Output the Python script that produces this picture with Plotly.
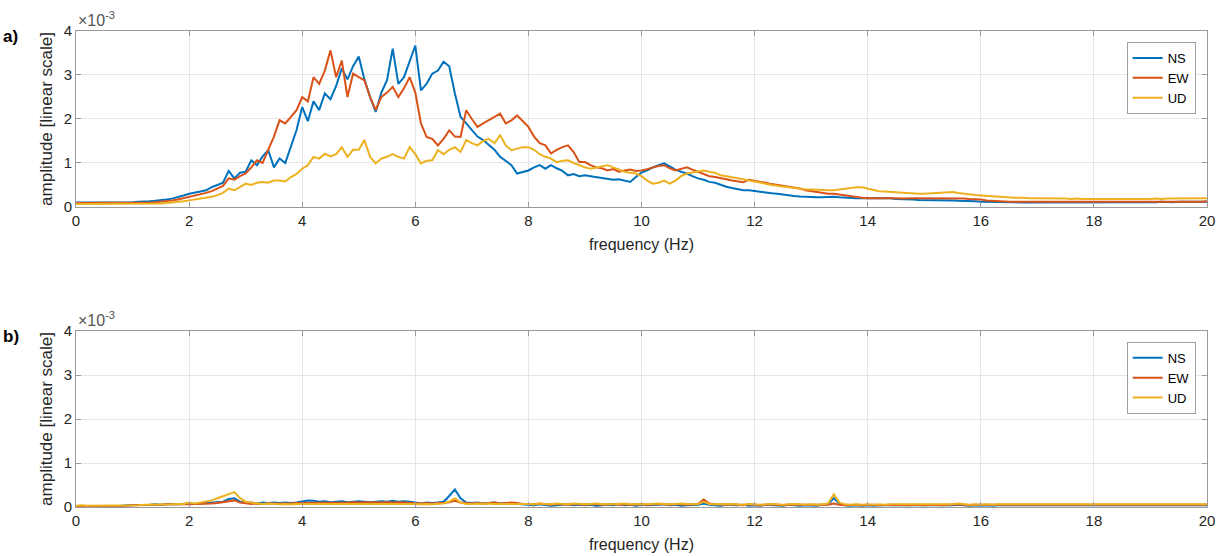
import numpy as np
import plotly.graph_objects as go

# frequency axis (Hz), 0.1 Hz steps
freq = [round(i * 0.1, 1) for i in range(201)]

# ---- panel a) amplitudes (x 1e-3) ----
ns_a = [
    0.10,0.10,0.10,0.10,0.10,0.10,0.10,0.11,0.11,0.11,
    0.11,0.12,0.12,0.13,0.14,0.15,0.17,0.19,0.22,0.26,
    0.30,0.32,0.35,0.38,0.45,0.50,0.55,0.82,0.65,0.78,
    0.80,1.06,0.95,1.15,1.29,0.90,1.10,1.00,1.36,1.75,
    2.27,1.95,2.40,2.20,2.58,2.45,2.75,3.15,2.90,3.20,
    3.42,2.90,2.50,2.16,2.60,2.88,3.60,2.80,2.95,3.30,
    3.67,2.65,2.80,3.03,3.10,3.30,3.20,2.58,2.05,1.90,
    1.75,1.60,1.52,1.40,1.30,1.14,1.05,0.95,0.76,0.80,
    0.83,0.90,0.95,0.87,0.95,0.88,0.82,0.72,0.75,0.70,
    0.72,0.70,0.68,0.66,0.65,0.62,0.63,0.60,0.57,0.68,
    0.78,0.83,0.90,0.95,0.99,0.92,0.85,0.80,0.76,0.70,
    0.65,0.62,0.57,0.55,0.50,0.46,0.43,0.40,0.38,0.38,
    0.36,0.34,0.33,0.31,0.30,0.28,0.27,0.25,0.24,0.23,
    0.23,0.22,0.22,0.23,0.23,0.22,0.21,0.21,0.20,0.20,
    0.20,0.20,0.19,0.19,0.20,0.18,0.18,0.17,0.17,0.16,
    0.16,0.16,0.15,0.15,0.15,0.15,0.14,0.14,0.13,0.13,
    0.12,0.12,0.12,0.11,0.11,0.11,0.11,0.10,0.10,0.10,
    0.10,0.10,0.11,0.10,0.10,0.10,0.11,0.10,0.10,0.10,
    0.10,0.10,0.11,0.11,0.10,0.10,0.11,0.11,0.10,0.11,
    0.11,0.11,0.12,0.11,0.11,0.12,0.12,0.11,0.12,0.12,
    0.12,
]
ew_a = [
    0.09,0.09,0.09,0.09,0.09,0.09,0.09,0.09,0.09,0.09,
    0.09,0.09,0.10,0.10,0.11,0.12,0.13,0.15,0.17,0.20,
    0.23,0.26,0.28,0.32,0.36,0.42,0.48,0.65,0.62,0.70,
    0.76,0.90,1.06,1.00,1.29,1.60,1.97,1.90,2.05,2.20,
    2.50,2.40,2.95,2.80,3.10,3.56,2.95,3.33,2.50,3.03,
    2.95,2.88,2.50,2.20,2.50,2.60,2.73,2.50,2.70,2.95,
    2.60,1.90,1.59,1.55,1.40,1.55,1.74,1.60,1.59,2.20,
    2.00,1.82,1.90,1.97,2.05,2.12,1.90,1.97,2.08,1.95,
    1.82,1.60,1.45,1.40,1.22,1.30,1.36,1.40,1.25,1.02,
    1.02,0.95,0.90,0.88,0.83,0.86,0.80,0.83,0.85,0.82,
    0.83,0.86,0.90,0.93,0.95,0.88,0.83,0.86,0.90,0.85,
    0.80,0.74,0.70,0.68,0.66,0.63,0.60,0.58,0.56,0.62,
    0.60,0.58,0.55,0.52,0.50,0.49,0.47,0.44,0.42,0.38,
    0.36,0.34,0.32,0.30,0.30,0.28,0.26,0.24,0.22,0.21,
    0.20,0.20,0.21,0.20,0.20,0.20,0.19,0.20,0.20,0.20,
    0.20,0.19,0.20,0.20,0.19,0.20,0.20,0.19,0.18,0.18,
    0.17,0.15,0.14,0.13,0.13,0.12,0.12,0.12,0.12,0.11,
    0.11,0.12,0.11,0.11,0.12,0.11,0.11,0.12,0.11,0.11,
    0.11,0.12,0.11,0.11,0.12,0.11,0.11,0.12,0.11,0.12,
    0.12,0.11,0.12,0.12,0.11,0.12,0.12,0.11,0.12,0.12,
    0.13,
]
ud_a = [
    0.07,0.07,0.07,0.07,0.07,0.07,0.07,0.07,0.07,0.07,
    0.07,0.07,0.07,0.08,0.08,0.08,0.09,0.10,0.11,0.13,
    0.15,0.17,0.19,0.21,0.23,0.27,0.32,0.42,0.38,0.45,
    0.53,0.50,0.55,0.57,0.55,0.60,0.60,0.58,0.68,0.75,
    0.87,0.95,1.14,1.10,1.21,1.15,1.20,1.36,1.14,1.30,
    1.30,1.52,1.14,0.99,1.10,1.14,1.20,1.14,1.10,1.36,
    1.20,0.99,1.05,1.06,1.29,1.20,1.30,1.36,1.25,1.52,
    1.45,1.40,1.50,1.55,1.45,1.63,1.40,1.29,1.33,1.36,
    1.36,1.30,1.20,1.14,1.10,1.02,1.05,1.06,1.00,0.95,
    0.90,0.87,0.90,0.92,0.95,0.90,0.85,0.80,0.78,0.76,
    0.70,0.60,0.53,0.55,0.60,0.53,0.60,0.70,0.76,0.78,
    0.80,0.83,0.80,0.78,0.72,0.70,0.68,0.66,0.63,0.60,
    0.58,0.55,0.53,0.50,0.48,0.47,0.45,0.43,0.42,0.40,
    0.40,0.39,0.38,0.38,0.38,0.40,0.42,0.44,0.45,0.45,
    0.42,0.38,0.36,0.35,0.34,0.33,0.32,0.31,0.30,0.30,
    0.30,0.31,0.32,0.33,0.34,0.34,0.32,0.30,0.28,0.27,
    0.26,0.25,0.24,0.23,0.22,0.22,0.21,0.21,0.20,0.20,
    0.20,0.20,0.19,0.20,0.19,0.19,0.18,0.19,0.18,0.18,
    0.18,0.18,0.17,0.18,0.18,0.17,0.18,0.18,0.18,0.18,
    0.18,0.19,0.18,0.19,0.19,0.20,0.19,0.20,0.20,0.20,
    0.20,
]

# ---- panel b) amplitudes (x 1e-3) ----
ns_b = [
    0.02,0.02,0.02,0.02,0.03,0.03,0.03,0.03,0.03,0.04,
    0.04,0.05,0.04,0.05,0.06,0.05,0.06,0.07,0.06,0.07,
    0.08,0.07,0.08,0.08,0.09,0.10,0.12,0.18,0.20,0.12,
    0.09,0.10,0.08,0.10,0.09,0.10,0.09,0.10,0.09,0.10,
    0.12,0.15,0.14,0.12,0.13,0.11,0.12,0.13,0.11,0.12,
    0.13,0.12,0.11,0.12,0.13,0.12,0.14,0.12,0.13,0.12,
    0.10,0.08,0.10,0.09,0.10,0.12,0.25,0.40,0.20,0.10,
    0.09,0.10,0.08,0.09,0.10,0.08,0.09,0.08,0.07,0.06,
    0.05,0.04,0.06,0.05,0.03,0.04,0.05,0.06,0.04,0.05,
    0.04,0.05,0.03,0.04,0.05,0.04,0.06,0.04,0.05,0.03,
    0.05,0.04,0.04,0.05,0.06,0.04,0.05,0.03,0.04,0.05,
    0.05,0.08,0.05,0.04,0.03,0.05,0.04,0.04,0.05,0.03,
    0.04,0.03,0.05,0.04,0.04,0.03,0.05,0.04,0.03,0.04,
    0.04,0.03,0.05,0.06,0.20,0.08,0.04,0.03,0.04,0.03,
    0.04,0.03,0.04,0.04,0.03,0.04,0.04,0.03,0.04,0.03,
    0.04,0.03,0.04,0.04,0.03,0.04,0.05,0.04,0.03,0.04,
    0.03,0.04,0.03,0.04,0.04,0.03,0.04,0.03,0.04,0.03,
    0.04,0.03,0.04,0.03,0.03,0.04,0.03,0.04,0.03,0.03,
    0.04,0.03,0.03,0.04,0.03,0.04,0.03,0.03,0.04,0.03,
    0.03,0.04,0.03,0.03,0.04,0.03,0.04,0.03,0.03,0.04,
    0.04,
]
ew_b = [
    0.02,0.02,0.02,0.02,0.02,0.03,0.03,0.03,0.03,0.03,
    0.04,0.04,0.04,0.05,0.05,0.05,0.06,0.06,0.05,0.06,
    0.06,0.07,0.07,0.08,0.08,0.09,0.11,0.14,0.15,0.10,
    0.08,0.07,0.08,0.07,0.08,0.08,0.07,0.08,0.08,0.09,
    0.09,0.10,0.09,0.10,0.09,0.10,0.10,0.09,0.10,0.11,
    0.10,0.11,0.10,0.11,0.10,0.11,0.10,0.11,0.10,0.10,
    0.09,0.08,0.09,0.08,0.09,0.09,0.11,0.14,0.10,0.09,
    0.08,0.09,0.08,0.09,0.10,0.08,0.09,0.10,0.09,0.07,
    0.07,0.06,0.08,0.06,0.05,0.07,0.06,0.05,0.07,0.06,
    0.05,0.06,0.07,0.05,0.06,0.07,0.05,0.06,0.05,0.06,
    0.06,0.05,0.06,0.07,0.06,0.05,0.07,0.06,0.05,0.06,
    0.07,0.17,0.08,0.06,0.05,0.05,0.06,0.05,0.04,0.06,
    0.05,0.04,0.05,0.06,0.05,0.04,0.05,0.05,0.04,0.05,
    0.05,0.04,0.05,0.05,0.08,0.05,0.04,0.05,0.05,0.04,
    0.05,0.05,0.04,0.05,0.05,0.04,0.05,0.04,0.05,0.05,
    0.04,0.05,0.05,0.04,0.05,0.05,0.06,0.05,0.04,0.05,
    0.05,0.04,0.05,0.05,0.04,0.05,0.04,0.05,0.05,0.04,
    0.05,0.04,0.05,0.05,0.04,0.05,0.05,0.04,0.05,0.04,
    0.05,0.05,0.04,0.05,0.04,0.05,0.05,0.04,0.05,0.05,
    0.04,0.05,0.05,0.04,0.05,0.04,0.05,0.05,0.04,0.05,
    0.05,
]
ud_b = [
    0.03,0.04,0.03,0.03,0.03,0.03,0.03,0.03,0.04,0.04,
    0.04,0.04,0.05,0.05,0.05,0.06,0.06,0.06,0.07,0.07,
    0.10,0.08,0.10,0.12,0.15,0.20,0.25,0.30,0.34,0.20,
    0.12,0.10,0.08,0.07,0.08,0.07,0.06,0.07,0.06,0.07,
    0.07,0.08,0.07,0.08,0.07,0.08,0.07,0.08,0.07,0.08,
    0.08,0.07,0.08,0.07,0.08,0.07,0.08,0.07,0.08,0.07,
    0.07,0.06,0.07,0.06,0.07,0.08,0.12,0.20,0.10,0.07,
    0.07,0.08,0.07,0.08,0.07,0.07,0.08,0.07,0.07,0.07,
    0.07,0.06,0.08,0.07,0.06,0.08,0.07,0.06,0.08,0.07,
    0.06,0.07,0.08,0.06,0.07,0.06,0.07,0.08,0.06,0.07,
    0.07,0.06,0.07,0.08,0.07,0.06,0.07,0.08,0.07,0.06,
    0.07,0.12,0.07,0.06,0.07,0.06,0.07,0.06,0.05,0.07,
    0.06,0.05,0.06,0.07,0.06,0.05,0.06,0.07,0.06,0.05,
    0.06,0.05,0.06,0.08,0.29,0.10,0.06,0.05,0.06,0.05,
    0.06,0.05,0.06,0.05,0.06,0.06,0.05,0.06,0.05,0.06,
    0.05,0.06,0.05,0.06,0.05,0.06,0.08,0.06,0.05,0.06,
    0.05,0.06,0.05,0.06,0.06,0.05,0.06,0.05,0.06,0.05,
    0.06,0.05,0.06,0.05,0.06,0.05,0.06,0.06,0.05,0.06,
    0.05,0.06,0.06,0.05,0.06,0.05,0.06,0.05,0.06,0.06,
    0.05,0.06,0.05,0.06,0.06,0.05,0.06,0.05,0.06,0.06,
    0.06,
]

series_names = ["NS", "EW", "UD"]
colors = ["#0072BD", "#D95319", "#EDB120"]
x_ticks = list(range(0, 21, 2))
y_ticks = [0, 1, 2, 3, 4]

FONT = "Liberation Sans, Arial, sans-serif"
AXC = "#9a9a9a"
TXT = "#262626"

fig = go.Figure()
for name, col, ys in zip(series_names, colors, [ns_a, ew_a, ud_a]):
    fig.add_trace(go.Scatter(x=freq, y=ys, mode="lines", name=name,
                             line=dict(color=col, width=2),
                             xaxis="x", yaxis="y", legend="legend"))
for name, col, ys in zip(series_names, colors, [ns_b, ew_b, ud_b]):
    fig.add_trace(go.Scatter(x=freq, y=ys, mode="lines", name=name,
                             line=dict(color=col, width=2),
                             xaxis="x2", yaxis="y2", legend="legend2"))

def xax(anchor):
    return dict(range=[0, 20], tickvals=x_ticks, ticks="inside", ticklen=5,
                tickcolor=AXC, showline=True, linecolor=AXC, linewidth=1,
                mirror="allticks", showgrid=True, gridcolor="#e6e6e6",
                zeroline=False, anchor=anchor, automargin=False,
                tickfont=dict(family=FONT, size=15, color=TXT),
                title=dict(text="frequency (Hz)", standoff=10,
                           font=dict(family=FONT, size=16, color=TXT)))

def yax(anchor, dom):
    return dict(range=[0, 4], tickvals=y_ticks, ticks="inside", ticklen=5,
                tickcolor=AXC, showline=True, linecolor=AXC, linewidth=1,
                mirror="allticks", showgrid=True, gridcolor="#e6e6e6",
                zeroline=False, anchor=anchor, domain=dom, automargin=False,
                tickfont=dict(family=FONT, size=15, color=TXT),
                title=dict(text="amplitude [linear scale]", standoff=6,
                           font=dict(family=FONT, size=17, color=TXT)))

leg_common = dict(bgcolor="white", bordercolor="#a0a0a0", borderwidth=1,
                  font=dict(family=FONT, size=13, color="#000"),
                  xanchor="right", yanchor="top", x=0.99, itemwidth=30,
                  tracegroupgap=0)

fig.update_layout(
    width=1230, height=556,
    margin=dict(l=76, r=23, t=31, b=49),
    paper_bgcolor="white", plot_bgcolor="white",
    xaxis=xax("y"), yaxis=yax("x", [0.6303, 1.0]),
    xaxis2=xax("y2"), yaxis2=yax("x2", [0.0, 0.3697]),
    legend=dict(**leg_common, y=0.977),
    legend2=dict(**leg_common, y=0.347),
    showlegend=True,
)

for ydom_top, lab in [(1.0, "a)"), (0.3697, "b)")]:
    fig.add_annotation(xref="paper", yref="paper", x=0, y=ydom_top,
                       xanchor="left", yanchor="bottom", showarrow=False,
                       text="×10<sup>-3</sup>",
                       font=dict(family=FONT, size=16, color="#555"))
    fig.add_annotation(xref="paper", yref="paper", x=-0.066, y=ydom_top - 0.012,
                       xanchor="left", yanchor="middle", showarrow=False,
                       text="<b>" + lab + "</b>",
                       font=dict(family=FONT, size=17, color="#000"))

fig.write_html("out.html")
